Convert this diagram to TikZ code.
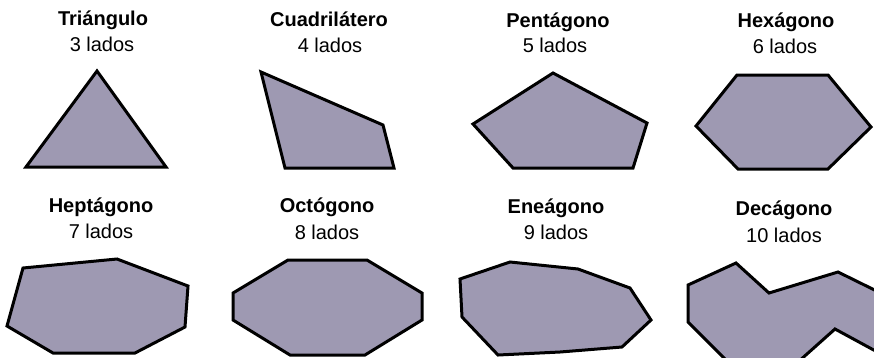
\documentclass[tikz,border=0pt]{standalone}
\usepackage{fontspec}
\setmainfont{Liberation Sans}
\definecolor{relleno}{RGB}{158,153,178}
\tikzset{
    poligono/.style={fill=relleno, draw=black, line width=3pt, line join=miter},
    nombre/.style={anchor=base, inner sep=0pt, font=\fontsize{20}{22}\selectfont\bfseries},
    lados/.style={anchor=base, inner sep=0pt, font=\fontsize{20}{22}\selectfont}
}
\begin{document}
\begin{tikzpicture}[x=1pt,y=-1pt]
    \useasboundingbox (0,0) rectangle (874,357);
    \clip (0,0) rectangle (874,357);
    % primera fila
    \node[nombre] (tri) at (103,25) {Triángulo};
    \node[lados] (tril) at (102,51) {3 lados};
    \node[nombre] (cua) at (329,26) {Cuadrilátero};
    \node[lados] (cual) at (330,52) {4 lados};
    \node[nombre] (pen) at (558,27) {Pentágono};
    \node[lados] (penl) at (555,52) {5 lados};
    \node[nombre] (hex) at (786,27) {Hexágono};
    \node[lados] (hexl) at (785,53) {6 lados};
    \filldraw[poligono] (97,71) -- (166,167) -- (26,167) -- cycle;
    \filldraw[poligono] (261,72) -- (383,125) -- (394,168) -- (285,168) -- cycle;
    \filldraw[poligono] (553,73) -- (647,123) -- (633,168) -- (513,168) -- (473,124) -- cycle;
    \filldraw[poligono] (737,75) -- (828,75) -- (871,127) -- (828,169) -- (738,169) -- (696,126) -- cycle;
    % segunda fila
    \node[nombre] (hep) at (101,212) {Heptágono};
    \node[lados] (hepl) at (101,238) {7 lados};
    \node[nombre] (oct) at (327,212) {Octógono};
    \node[lados] (octl) at (327,239) {8 lados};
    \node[nombre] (ene) at (556,213) {Eneágono};
    \node[lados] (enel) at (556,239) {9 lados};
    \node[nombre] (dec) at (784,215) {Decágono};
    \node[lados] (decl) at (784,242) {10 lados};
    \filldraw[poligono] (23,268) -- (117,259) -- (188,286) -- (185,327) -- (135,353) -- (53,353) -- (7,326) -- cycle;
    \filldraw[poligono] (288,260) -- (367,260) -- (422,293) -- (422,320) -- (365,355) -- (290,355) -- (233,320) -- (233,293) -- cycle;
    \filldraw[poligono] (460,279) -- (510,262) -- (578,269) -- (630,288) -- (651,320) -- (622,347) -- (560,352) -- (498,355) -- (462,317) -- cycle;
    \filldraw[poligono] (688,285) -- (736,263) -- (769,293) -- (838,272) -- (905,305) -- (905,367) -- (835,329) -- (798,362) -- (728,362) -- (688,322) -- cycle;
\end{tikzpicture}
\end{document}
